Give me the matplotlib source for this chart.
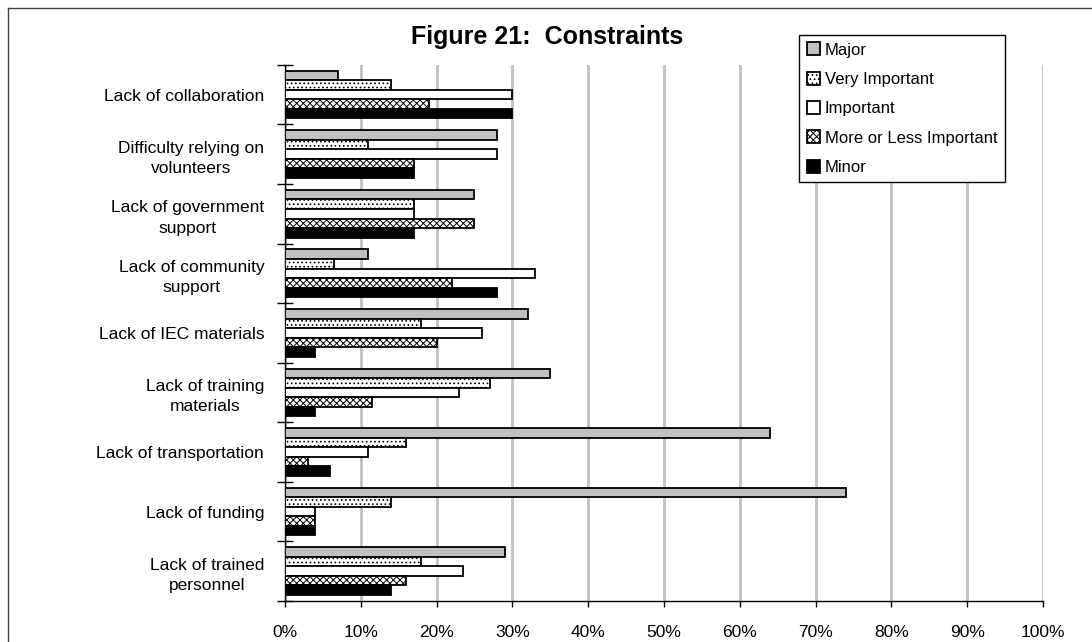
import numpy as np
import matplotlib
matplotlib.use('Agg')
from matplotlib import pyplot as plt
from matplotlib.ticker import PercentFormatter, MultipleLocator, FixedLocator
from matplotlib.lines import Line2D

plt.rcParams['font.family'] = ['Liberation Sans', 'DejaVu Sans']
plt.rcParams['hatch.linewidth'] = 0.7

categories = ["Lack of collaboration", "Difficulty relying on\nvolunteers",
              "Lack of government\nsupport", "Lack of community\nsupport",
              "Lack of IEC materials", "Lack of training\nmaterials",
              "Lack of transportation", "Lack of funding",
              "Lack of trained\npersonnel"]
series = ["Major", "Very Important", "Important", "More or Less Important", "Minor"]

major = [7, 28, 25, 11, 32, 35, 64, 74, 29]
very_important = [14, 11, 17, 6.5, 18, 27, 16, 14, 18]
important = [30, 28, 17, 33, 26, 23, 11, 4, 23.5]
more_or_less = [19, 17, 25, 22, 20, 11.5, 3, 4, 16]
minor = [30, 17, 17, 28, 4, 4, 6, 4, 14]

values = [major, very_important, important, more_or_less, minor]
fills = ['#c0c0c0', 'white', 'white', 'white', 'black']
hatches = [None, '....', None, 'xxxxx', None]

fig = plt.figure(figsize=(10.92, 6.42), dpi=100)
ax = fig.add_axes([0.261, 0.064, 0.694, 0.835])

n = len(categories)
y = np.arange(n)
h = 0.16
for i, (name, vals) in enumerate(zip(series, values)):
    offs = (i - 2) * h
    ax.barh(y + offs, vals, height=h, color=fills[i], edgecolor='black',
            linewidth=1.3, hatch=hatches[i], label=name, zorder=3)

ax.set_xlim(0, 100)
ax.set_ylim(n - 0.5, -0.5)
ax.xaxis.set_major_locator(MultipleLocator(10))
ax.xaxis.set_major_formatter(PercentFormatter(100, decimals=0))
ax.grid(axis='x', color='#c0c0c0', linewidth=2, zorder=0)
ax.set_axisbelow(True)

ax.set_yticks(y)
ax.set_yticklabels(categories, multialignment='center', fontsize=12.5, linespacing=1.45)
ax.yaxis.set_minor_locator(FixedLocator(np.arange(-0.5, n, 1.0)))
ax.tick_params(axis='y', which='major', length=0, pad=15)
ax.tick_params(axis='y', which='minor', length=11, direction='inout', width=1)
ax.tick_params(axis='x', which='major', length=4, width=1, pad=13, labelsize=12.5)

for s in ['top', 'right']:
    ax.spines[s].set_visible(False)
ax.spines['left'].set_linewidth(1)
ax.spines['bottom'].set_linewidth(1)

fig.text(0.501, 0.942, "Figure 21:  Constraints", fontsize=18, fontweight='bold',
         ha='center', va='center')

leg = fig.legend(loc='upper left', bbox_to_anchor=(0.7317, 0.9455), fontsize=12,
                 handlelength=0.8, handleheight=0.8, handletextpad=0.3,
                 labelspacing=0.85, borderpad=0.45, borderaxespad=0,
                 fancybox=False, framealpha=1, edgecolor='black')
leg.get_frame().set_linewidth(1)

# outer chart border (top/left visible, right/bottom run off the image)
fig.add_artist(Line2D([8 / 1092, 8 / 1092], [0, 1 - 8 / 642], color='#404040', lw=1))
fig.add_artist(Line2D([8 / 1092, 1], [1 - 8 / 642, 1 - 8 / 642], color='#404040', lw=1))

fig.savefig('out.png', dpi=100)
